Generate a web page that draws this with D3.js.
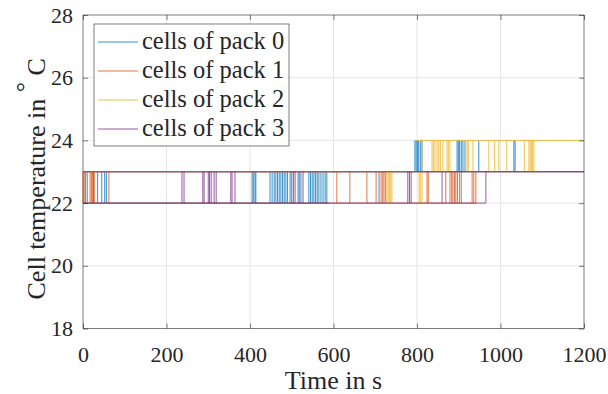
<!DOCTYPE html>
<html>
<head>
<meta charset="utf-8">
<script src="https://cdn.jsdelivr.net/npm/d3@7"></script>
</head>
<body style="margin:0">
<svg id="chart" width="608" height="394"></svg>
<script>
// legend names and colours (MATLAB default order)
const packNames = ['cells of pack 0', 'cells of pack 1', 'cells of pack 2', 'cells of pack 3'];
const packColors = ['#0072BD', '#D95319', '#EDB120', '#7E2F8E'];

const xTicks = [0, 200, 400, 600, 800, 1000, 1200];
const yTicks = [18, 20, 22, 24, 26, 28];

// steady levels per pack: [start s, end s, temperature]
const pack0Levels = [[0, 1200, 23], [0, 590, 22]];
const pack1Levels = [[0, 1200, 23], [0, 941, 22]];
const pack2Levels = [[0, 800, 23], [795, 1200, 24]];
const pack3Levels = [[0, 1200, 23], [0, 965, 22]];

// times where a cell toggles between 22 and 23 degC
const pack0Low = [10, 25, 35, 45, 52, 56, 405, 408, 412, 414, 448, 453, 458, 462, 466, 470, 474, 478, 482, 486, 490, 496,
  515, 518, 522, 541, 545, 549, 553, 557, 561, 565, 570, 575, 580, 584, 709];
const pack1Low = [0, 3, 6, 17, 20, 23, 27, 62, 608, 639, 680, 702, 714, 718, 721, 725, 824, 827, 869, 879, 883, 886,
  890, 893, 897, 902, 906, 932, 936, 941];
const pack2Low = [728, 731, 734, 737, 740, 805, 808, 812];
const pack3Low = [237, 242, 287, 290, 300, 303, 307, 314, 319, 354, 357, 364, 500, 504, 508, 527, 778, 782, 786, 860, 965];

// times where a cell toggles between 23 and 24 degC
const pack0High = [795, 798, 801, 804, 808, 812, 896, 899, 902, 906, 910, 915, 948, 1032, 1035];
const pack1High = [];
const pack2High = [812, 836, 839, 843, 848, 852, 856, 862, 872, 875, 879, 920, 923, 934, 972, 986, 996, 1015, 1057,
  1068, 1071, 1074, 1077, 1080];
const pack3High = [];

const packs = [
  { levels: pack0Levels, low: pack0Low, high: pack0High },
  { levels: pack1Levels, low: pack1Low, high: pack1High },
  { levels: pack2Levels, low: pack2Low, high: pack2High },
  { levels: pack3Levels, low: pack3Low, high: pack3High }
];

const FONT = "'Liberation Serif'";

const margin = {top: 15, right: 24, bottom: 65.5, left: 83},
  width = 608 - margin.left - margin.right,
  height = 394 - margin.top - margin.bottom;

const x = d3.scaleLinear().domain([0, 1200]).range([0, width]);
const y = d3.scaleLinear().domain([18, 28]).range([height, 0]);

const root = d3.select('#chart');
const svg = root.append('g')
  .attr('transform', 'translate(' + margin.left + ',' + margin.top + ')');

// grid
svg.append('g').selectAll('line').data(xTicks.slice(1, -1)).join('line')
  .attr('x1', d => x(d)).attr('x2', d => x(d))
  .attr('y1', 0).attr('y2', height)
  .attr('stroke', '#e6e6e6').attr('stroke-width', 1);
svg.append('g').selectAll('line').data(yTicks.slice(1, -1)).join('line')
  .attr('y1', d => y(d)).attr('y2', d => y(d))
  .attr('x1', 0).attr('x2', width)
  .attr('stroke', '#e6e6e6').attr('stroke-width', 1);

// series
const line = d3.line().x(d => x(d[0])).y(d => y(d[1]));
packs.forEach((p, i) => {
  const segs = [];
  p.levels.forEach(l => segs.push([[l[0], l[2]], [l[1], l[2]]]));
  p.low.forEach(t => segs.push([[t, 22], [t, 23]]));
  p.high.forEach(t => segs.push([[t, 23], [t, 24]]));
  const g = svg.append('g').attr('class', 'pack' + i);
  g.selectAll('path').data(segs).join('path')
    .attr('d', line)
    .attr('fill', 'none')
    .attr('stroke', packColors[i])
    .attr('stroke-width', 0.8);
});

// axes (ticks inside, mirrored)
const tickLen = 5;
const xAxis = d3.axisBottom(x).tickValues(xTicks).tickFormat(d3.format('d')).tickSize(-tickLen).tickSizeOuter(0);
const yAxis = d3.axisLeft(y).tickValues(yTicks).tickFormat(d3.format('d')).tickSize(-tickLen).tickPadding(10).tickSizeOuter(0);
const xAxisTop = d3.axisTop(x).tickValues(xTicks).tickSize(-tickLen).tickFormat('').tickSizeOuter(0);
const yAxisRight = d3.axisRight(y).tickValues(yTicks).tickSize(-tickLen).tickFormat('').tickSizeOuter(0);

const gx = svg.append('g').attr('transform', 'translate(0,' + height + ')').call(xAxis);
const gy = svg.append('g').call(yAxis);
const gxt = svg.append('g').call(xAxisTop);
const gyr = svg.append('g').attr('transform', 'translate(' + width + ',0)').call(yAxisRight);
[gx, gy, gxt, gyr].forEach(g => {
  g.attr('font-family', null).attr('font-size', null);
  g.select('.domain').remove();
  g.selectAll('.tick line').attr('stroke', '#262626').attr('stroke-width', 0.6);
  g.selectAll('text').attr('fill', '#262626')
    .style('font-family', FONT).style('font-size', '22px');
});
gx.selectAll('text').attr('y', 33).attr('dy', null);

svg.append('rect')
  .attr('x', 0).attr('y', 0).attr('width', width).attr('height', height)
  .attr('fill', 'none').attr('stroke', '#262626').attr('stroke-width', 0.6);

// axis labels
svg.append('text')
  .attr('x', width / 2).attr('y', height + 60)
  .attr('text-anchor', 'middle')
  .attr('fill', '#262626')
  .style('font-family', FONT)
  .style('font-size', '26px')
  .text('Time in s');

const yl = svg.append('text')
  .attr('transform', 'translate(' + (-38) + ',' + (height / 2 + 7) + ') rotate(-90)')
  .attr('text-anchor', 'middle')
  .attr('fill', '#262626')
  .style('font-family', FONT)
  .style('font-size', '26px');
yl.append('tspan').text('Cell temperature in ');
yl.append('tspan').attr('dy', '-0.45em').text('\u00b0');
yl.append('tspan').attr('dy', '0.45em').text(' C');

// legend
const lg = svg.append('g').attr('transform', 'translate(11,9)');
lg.append('rect')
  .attr('x', 0).attr('y', 0).attr('width', 195).attr('height', 122)
  .attr('fill', '#fff').attr('stroke', '#262626').attr('stroke-width', 0.6);
packNames.forEach((name, i) => {
  const cy = 18 + i * 29;
  lg.append('line')
    .attr('x1', 4).attr('x2', 44).attr('y1', cy).attr('y2', cy)
    .attr('stroke', packColors[i]).attr('stroke-width', 0.8);
  lg.append('text')
    .attr('x', 48).attr('y', cy + 7)
    .attr('fill', '#262626')
    .style('font-family', FONT)
    .style('font-size', '24.5px')
    .text(name);
});
</script>
</body>
</html>
